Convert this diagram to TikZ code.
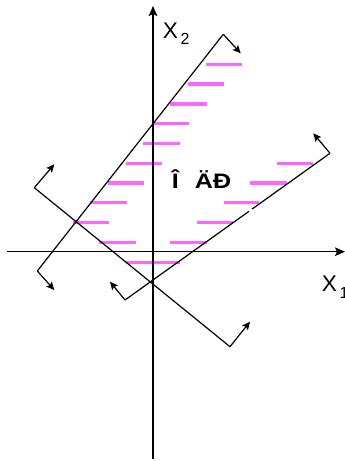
\documentclass[tikz,border=0pt]{standalone}
\usepackage{fontspec}
\setmainfont{Liberation Sans}
\usepackage{graphicx}
\usetikzlibrary{arrows.meta}
\definecolor{Hatch}{HTML}{FF66FF}
\definecolor{Ink}{HTML}{000000}

\begin{document}
\begin{tikzpicture}[x=0.75pt,y=-0.75pt,axis/.style={-{Stealth[length=7.5pt,width=6.5pt,inset=1.5pt]},line width=0.9pt,draw=Ink},bound/.style={line width=0.9pt,draw=Ink},normal/.style={-{Stealth[length=6pt,width=5.5pt,inset=1.2pt]},line width=0.9pt,draw=Ink},hatch/.style={line width=2.3pt,draw=Hatch},lbl/.style={anchor=base west,inner sep=0pt,text=Ink}]
\useasboundingbox (0,0) rectangle (345,461);
% hatching of the feasible region
\draw[hatch] (206,64.3) -- (242,64.3);\draw[hatch] (188.3,84) -- (224,84);\draw[hatch] (170,104) -- (206.7,104);\draw[hatch] (152.7,123.7) -- (189,123.7);
\draw[hatch] (143.3,143.7) -- (180,143.7);\draw[hatch] (125.7,163.3) -- (162.3,163.3);\draw[hatch] (107.7,183) -- (144.3,183);\draw[hatch] (90,202.7) -- (126.7,202.7);
\draw[hatch] (72.7,222.3) -- (109,222.3);\draw[hatch] (99.3,242.3) -- (135.7,242.3);\draw[hatch] (125.7,262.3) -- (180,262.3);
\draw[hatch] (276.7,163.3) -- (313.3,163.3);\draw[hatch] (250,183) -- (286.7,183);\draw[hatch] (224,202.7) -- (259.3,202.7);\draw[hatch] (197.3,222.3) -- (232.7,222.3);\draw[hatch] (170,242.3) -- (206.7,242.3);
% axes
\coordinate (x1s) at (7,251.7);\coordinate (x1e) at (345,251.7);\coordinate (x2s) at (153,459);\coordinate (x2e) at (153,6);
\draw[axis] (x1s) -- (x1e);\draw[axis] (x2s) -- (x2e);
% constraint lines with their normals
\coordinate (a1) at (37.3,271);\coordinate (a2) at (223.3,34.3);\coordinate (a1n) at (54.3,290);\coordinate (a2n) at (240.7,53.3);
\coordinate (b1) at (34.3,187.7);\coordinate (b2) at (230,346.7);\coordinate (b1n) at (54.3,164.3);\coordinate (b2n) at (250,321.7);
\coordinate (c1) at (125,300);\coordinate (c2) at (330,153.3);\coordinate (c1n) at (110,281.7);\coordinate (c2n) at (313.3,133.3);
\coordinate (cg1) at (249,211.3);\coordinate (cg2) at (252,209.1);
\draw[bound] (a1) -- (a2);\draw[normal] (a1) -- (a1n);\draw[normal] (a2) -- (a2n);
\draw[bound] (b1) -- (b2);\draw[normal] (b1) -- (b1n);\draw[normal] (b2) -- (b2n);
\draw[bound] (c1) -- (cg1);\draw[bound] (cg2) -- (c2);\draw[normal] (c1) -- (c1n);\draw[normal] (c2) -- (c2n);
% labels
\node[lbl,font=\fontsize{17}{20}\selectfont] (x2lbl) at (162.5,38.3){X\hspace{2pt}{\fontsize{12}{14}\selectfont\raisebox{-5pt}{2}}};
\node[lbl,font=\fontsize{17}{20}\selectfont] (x1lbl) at (321.5,291.7){X\hspace{2pt}{\fontsize{12}{14}\selectfont\raisebox{-5pt}{1}}};
\node[lbl,font=\bfseries\fontsize{15.7}{18}\selectfont] (odr) at (171.7,188.3){\scalebox{1.2}[1]{Î\hspace{10pt}ÄÐ}};
\end{tikzpicture}
\end{document}
